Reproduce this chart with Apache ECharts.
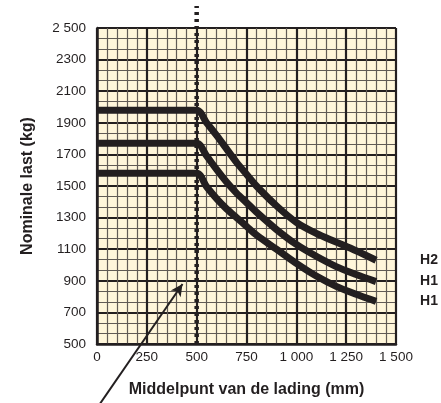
<!DOCTYPE html>
<html>
<head>
<meta charset="utf-8">
<script src="https://cdn.jsdelivr.net/npm/echarts@6/dist/echarts.min.js"></script>
<style>
html,body{margin:0;padding:0;background:#fff;}
#chart{width:441px;height:403px;}
</style>
</head>
<body>
<div id="chart"></div>
<script>
// ---- data ----
const loadCentreMm = [0, 500, 550, 600, 650, 700, 750, 800, 900, 1000, 1100, 1200, 1300, 1400];
const capacityH2  = [1980, 1980, 1900, 1820, 1735, 1650, 1575, 1500, 1375, 1270, 1200, 1145, 1090, 1030];
const capacityH1a = [1770, 1770, 1690, 1605, 1525, 1455, 1395, 1335, 1225, 1130, 1055, 990, 940, 895];
const capacityH1b = [1580, 1580, 1495, 1420, 1355, 1300, 1245, 1190, 1100, 1010, 930, 865, 815, 770];
const seriesNames = ['H2', 'H1', 'H1'];

const refLineX = [500, 500];
const refLineY = [500, 2640];
const arrowX = [14, 429];
const arrowY = [120, 880];

const xTickValues = [0, 250, 500, 750, 1000, 1250, 1500];
const xTickLabels = ['0', '250', '500', '750', '1 000', '1 250', '1 500'];
const yTickValues = [500, 700, 900, 1100, 1300, 1500, 1700, 1900, 2100, 2300, 2500];
const yTickLabels = ['500', '700', '900', '1100', '1300', '1500', '1700', '1900', '2100', '2300', '2 500'];

const xAxisTitle = 'Middelpunt van de lading (mm)';
const yAxisTitle = 'Nominale last (kg)';

// ---- build ----
const ink = '#231f20';
const narrow = "'Liberation Sans Narrow', 'Liberation Sans', Arial, sans-serif";
const bold = "'Liberation Sans', Arial, sans-serif";

function pairs(xs, ys) { return xs.map((x, i) => [x, ys[i]]); }
function tickFmt(vals, labels) {
  return function (v) { const i = vals.indexOf(v); return i >= 0 ? labels[i] : ''; };
}

const chart = echarts.init(document.getElementById('chart'), null, { renderer: 'canvas' });

function curve(name, ys) {
  return {
    type: 'line',
    name: name,
    data: pairs(loadCentreMm, ys),
    smooth: 0.3,
    showSymbol: false,
    symbol: 'none',
    lineStyle: { color: ink, width: 7, cap: 'butt', join: 'round' },
    endLabel: {
      show: true,
      formatter: name,
      distance: 44,
      color: ink,
      fontFamily: bold,
      fontWeight: 'bold',
      fontSize: 14
    },
    z: 3,
    silent: true,
    animation: false
  };
}

const option = {
  animation: false,
  backgroundColor: '#ffffff',
  grid: {
    left: 97, right: 45, top: 28, bottom: 57,
    show: true, backgroundColor: '#fff6da', borderWidth: 0
  },
  xAxis: {
    type: 'value', min: 0, max: 1500, interval: 250,
    name: xAxisTitle, nameLocation: 'middle', nameGap: 38,
    nameTextStyle: { color: ink, fontFamily: bold, fontWeight: 'bold', fontSize: 16 },
    axisLine: { show: true, onZero: false, lineStyle: { color: ink, width: 2.5 } },
    axisTick: { show: false },
    axisLabel: { color: ink, fontFamily: narrow, fontSize: 13.5, margin: 6, formatter: tickFmt(xTickValues, xTickLabels) },
    splitLine: { show: true, lineStyle: { color: ink, width: 2.2 } },
    minorTick: { show: false, splitNumber: 5 },
    minorSplitLine: { show: true, lineStyle: { color: '#615b55', width: 1.2 } }
  },
  yAxis: {
    type: 'value', min: 500, max: 2500, interval: 200,
    name: yAxisTitle, nameLocation: 'middle', nameGap: 61, nameRotate: 90,
    nameTextStyle: { color: ink, fontFamily: bold, fontWeight: 'bold', fontSize: 16 },
    axisLine: { show: true, onZero: false, lineStyle: { color: ink, width: 2.5 } },
    axisTick: { show: false },
    axisLabel: { color: ink, fontFamily: narrow, fontSize: 13.5, margin: 11, formatter: tickFmt(yTickValues, yTickLabels) },
    splitLine: { show: true, lineStyle: { color: ink, width: 2.2 } },
    minorTick: { show: false, splitNumber: 3 },
    minorSplitLine: { show: true, lineStyle: { color: '#615b55', width: 1.2 } }
  },
  series: [
    curve(seriesNames[0], capacityH2),
    curve(seriesNames[1], capacityH1a),
    curve(seriesNames[2], capacityH1b),
    {
      type: 'line',
      data: pairs(refLineX, refLineY),
      clip: false,
      showSymbol: false,
      symbol: 'none',
      lineStyle: { color: ink, width: 4.5, type: [3, 4], cap: 'butt' },
      z: 4, silent: true, animation: false
    },
    {
      type: 'line',
      id: 'arrow',
      data: [
        { value: [arrowX[0], arrowY[0]], symbol: 'none' },
        { value: [arrowX[1], arrowY[1]], symbol: 'arrow', symbolSize: [9, 12] }
      ],
      clip: false,
      showSymbol: true,
      showAllSymbol: true,
      itemStyle: { color: ink },
      lineStyle: { color: ink, width: 2 },
      z: 5, silent: true, animation: false
    }
  ]
};

chart.setOption(option);

// rotate the arrow head along the drawn direction
const p0 = chart.convertToPixel({ gridIndex: 0 }, [arrowX[0], arrowY[0]]);
const p1 = chart.convertToPixel({ gridIndex: 0 }, [arrowX[1], arrowY[1]]);
const ang = Math.atan2(p1[0] - p0[0], p0[1] - p1[1]) * 180 / Math.PI;
chart.setOption({
  series: [{
    id: 'arrow',
    data: [
      { value: [arrowX[0], arrowY[0]], symbol: 'none' },
      { value: [arrowX[1], arrowY[1]], symbol: 'arrow', symbolSize: [9, 12], symbolRotate: -ang }
    ]
  }]
});
</script>
</body>
</html>
